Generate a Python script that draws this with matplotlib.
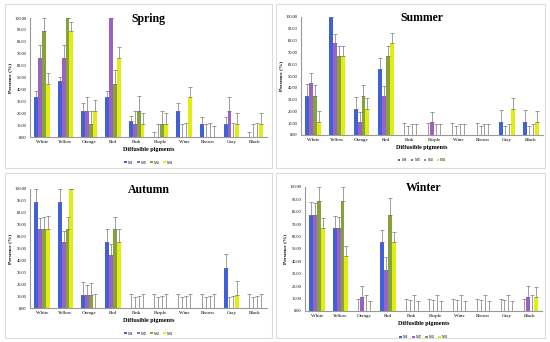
import matplotlib
matplotlib.use("Agg")
from matplotlib import pyplot as plt
from matplotlib.patches import Rectangle
import numpy as np

pigmentos = ["White", "Yellow", "Orange", "Red", "Pink", "Purple", "Wine", "Brown", "Gray", "Black"]
series = ["M1", "M2", "M3", "M4"]
colores = ["#4060D8", "#9A62C4", "#86A23A", "#E2EE10"]

# valores (%) por estacion: una lista por serie M1..M4
spring = [
    [33.3, 46.7, 22.2, 33.3, 13.3, 0, 22.2, 11.1, 11.1, 0],
    [66.7, 66.7, 22.2, 100, 11.1, 0, 0, 0, 22.2, 0],
    [88.9, 100, 11.1, 44.4, 22.2, 11.1, 0, 0, 0, 0],
    [44.4, 88.9, 22.2, 66.7, 11.1, 11.1, 33.3, 0, 11.1, 11.1],
]
spring_err = [
    [5, 4, 6, 5, 4, 4, 6, 6, 6, 4],
    [11, 11, 11, 0, 11, 11, 11, 11, 11, 11],
    [11, 0, 11, 12, 12, 11, 12, 12, 12, 12],
    [9, 8, 9, 9, 9, 9, 9, 9, 9, 9],
]
summer = [
    [33.3, 100, 22.2, 55.6, 0, 0, 0, 0, 11.1, 11.1],
    [44.4, 77.8, 11.1, 33.3, 0, 11.1, 0, 0, 0, 0],
    [33.3, 66.7, 33.3, 66.7, 0, 0, 0, 0, 0, 0],
    [11.1, 66.7, 22.2, 77.8, 0, 0, 0, 0, 22.2, 11.1],
]
summer_err = [
    [10, 0, 10, 10, 10, 10, 10, 10, 10, 10],
    [8, 8, 8, 8, 8, 8, 8, 8, 8, 8],
    [9, 9, 9, 9, 9, 9, 9, 9, 9, 9],
    [9, 9, 9, 9, 9, 9, 9, 9, 9, 9],
]
autumn = [
    [88.9, 88.9, 11.1, 55.6, 0, 0, 0, 0, 33.3, 0],
    [66.7, 55.6, 11.1, 44.4, 0, 0, 0, 0, 0, 0],
    [66.7, 66.7, 11.1, 66.7, 0, 0, 0, 0, 0, 0],
    [66.7, 100, 0, 55.6, 0, 0, 0, 0, 11.1, 0],
]
autumn_err = [
    [11, 11, 11, 11, 12, 12, 12, 12, 12, 12],
    [9, 9, 8, 9, 9, 9, 9, 9, 9, 9],
    [10, 10, 10, 10, 10, 10, 10, 10, 10, 10],
    [11, 0, 12, 11, 12, 12, 12, 12, 12, 12],
]
winter = [
    [77.8, 66.7, 0, 55.6, 0, 0, 0, 0, 0, 0],
    [77.8, 66.7, 11.1, 33.3, 0, 0, 0, 0, 0, 11.1],
    [88.9, 88.9, 0, 77.8, 0, 0, 0, 0, 0, 0],
    [66.7, 44.4, 0, 55.6, 0, 0, 0, 0, 0, 11.1],
]
winter_err = [
    [10, 10, 10, 10, 10, 10, 10, 10, 10, 10],
    [9, 9, 9, 10, 9, 9, 9, 9, 9, 9],
    [11, 11, 13, 13, 13, 13, 13, 13, 13, 13],
    [8, 8, 8, 8, 8, 8, 8, 8, 8, 8],
]

estaciones = [
    ("Spring", spring, spring_err, [30, 267, 137, 18], [5, 272, 4, 168]),
    ("Summer", summer, summer_err, [301, 543, 135, 17], [276, 545, 4, 168]),
    ("Autumn", autumn, autumn_err, [30, 267, 308, 189], [5, 272, 173, 338]),
    ("Winter", winter, winter_err, [305, 542, 311, 187], [276, 545, 173, 338]),
]

W, H = 550, 342
fig = plt.figure(figsize=(W / 100, H / 100), dpi=100)
plt.rcParams["font.family"] = ["Liberation Serif", "DejaVu Serif"]

x = np.arange(len(pigmentos))
ancho = 0.165
offs = [-1.5, -0.5, 0.5, 1.5]

for nombre, datos, errores, caja, marco in estaciones:
    # marco del panel
    fig.patches.append(Rectangle((marco[0] / W, 1 - marco[3] / H), (marco[1] - marco[0]) / W,
                                 (marco[3] - marco[2]) / H, transform=fig.transFigure,
                                 fill=False, edgecolor="#dddddd", linewidth=0.8))
    x0, x1, y0, y1 = caja
    ax = fig.add_axes([x0 / W, 1 - y0 / H, (x1 - x0) / W, (y0 - y1) / H])
    for i in range(4):
        vals = np.array(datos[i])
        err = np.array(errores[i])
        ax.bar(x + offs[i] * ancho, vals, ancho, color=colores[i], label=series[i],
               yerr=[np.zeros_like(err), err], capsize=1.2,
               error_kw=dict(ecolor="#777777", elinewidth=0.5, capthick=0.5))
    ax.set_xlim(-0.5, len(pigmentos) - 0.5)
    ax.set_ylim(0, 100)
    ax.set_yticks(np.arange(0, 101, 10))
    ax.set_yticklabels([f"{v:.2f}" for v in range(0, 101, 10)], fontsize=3.2)
    ax.set_xticks(x)
    ax.set_xticklabels(pigmentos, fontsize=3.6)
    ax.tick_params(length=0, pad=2.5)
    for s in ["top", "right"]:
        ax.spines[s].set_visible(False)
    ax.spines["left"].set_color("#999999")
    ax.spines["bottom"].set_color("#999999")
    ax.spines["left"].set_linewidth(0.8)
    ax.spines["bottom"].set_linewidth(0.8)
    ax.set_ylabel("Presence (%)", fontsize=3.8, fontweight="bold", labelpad=2)
    ax.set_xlabel("Diffusible pigments", fontsize=4.4, fontweight="bold", labelpad=1.5)
    ax.text(0.5, 0.995, nombre, transform=ax.transAxes, ha="center", va="center",
            fontsize=8.5, fontweight="bold")
    ax.legend(loc="upper center", bbox_to_anchor=(0.5, -0.18), ncol=4, fontsize=3,
              frameon=False, handlelength=0.6, handleheight=0.6, handletextpad=0.3,
              columnspacing=0.8, borderpad=0)

plt.savefig("out.png", dpi=100)
